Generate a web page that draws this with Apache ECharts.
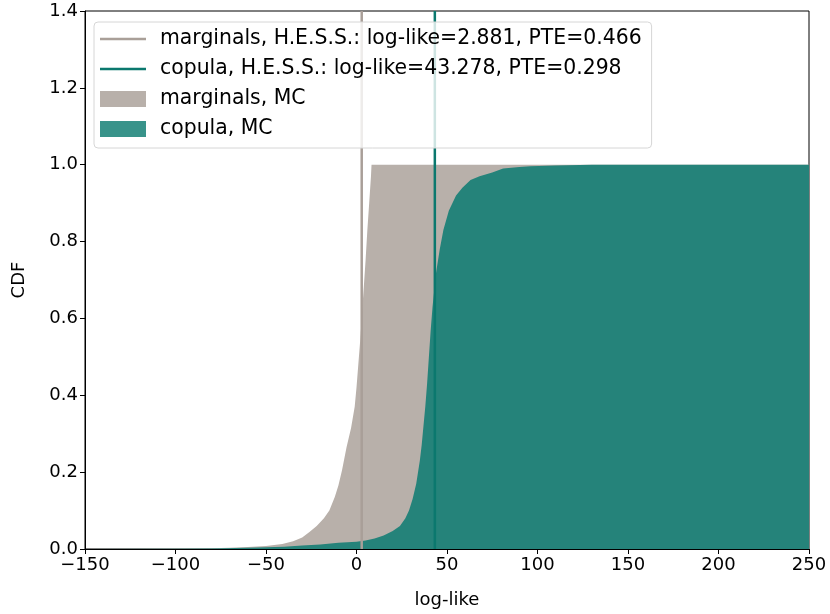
<!DOCTYPE html>
<html>
<head>
<meta charset="utf-8">
<script src="https://cdn.jsdelivr.net/npm/echarts@6/dist/echarts.min.js"></script>
<style>
  html, body { margin: 0; padding: 0; background: #fff; }
  #main { width: 830px; height: 614px; }
</style>
</head>
<body>
<div id="main"></div>
<script>
// MC CDF, marginals
var margX = [-150, -120, -100, -80, -70, -60, -50, -41, -35, -30, -26, -22, -18, -15, -12, -10, -8, -5.5, -3, -1, 0, 1, 2, 3, 4, 5, 6, 7, 8, 8.3, 250]
var margY = [0, 0.0005, 0.001, 0.002, 0.003, 0.005, 0.008, 0.013, 0.02, 0.03, 0.044, 0.06, 0.08, 0.1, 0.135, 0.165, 0.205, 0.265, 0.315, 0.37, 0.42, 0.48, 0.54, 0.61, 0.68, 0.75, 0.83, 0.9, 0.97, 1.0, 1.0]
// MC CDF, copula
var copX = [-150, -100, -80, -60, -40, -30, -20, -10, 0, 5, 10, 15, 20, 24, 27, 29, 31, 33, 35, 36, 37, 38, 39, 40, 41, 42, 44, 46, 48, 51, 55, 58.5, 63, 68, 75, 81, 90, 96, 110, 130, 250]
var copY = [0, 0.0005, 0.001, 0.003, 0.006, 0.009, 0.012, 0.016, 0.019, 0.022, 0.027, 0.035, 0.047, 0.06, 0.08, 0.1, 0.13, 0.17, 0.23, 0.27, 0.32, 0.37, 0.43, 0.5, 0.57, 0.63, 0.72, 0.78, 0.83, 0.88, 0.92, 0.94, 0.96, 0.97, 0.98, 0.99, 0.994, 0.996, 0.998, 1.0, 1.0]
// observed H.E.S.S. values
var hessMarg = 2.881
var hessCop = 43.278
var names = [
  'marginals, H.E.S.S.: log-like=2.881, PTE=0.466',
  'copula, H.E.S.S.: log-like=43.278, PTE=0.298',
  'marginals, MC',
  'copula, MC'
]

function pairs (xs, ys) {
  var out = []
  for (var i = 0; i < xs.length; i++) {
    out.push([xs[i], ys[i]])
  }
  return out
}

var font = 'DejaVu Sans'
// thin bar centred in a 46x16 box, used as legend icon for the vertical lines
var lineIcon = 'path://M0,0M46,16M0,6.75h46v2.5h-46z'
var myChart = echarts.init(document.getElementById('main'))
var option = {
  animation: false,
  textStyle: { fontFamily: font },
  grid: {
    left: 85,
    right: 21,
    top: 11,
    bottom: 64,
    show: true,
    borderColor: '#000',
    borderWidth: 1,
    backgroundColor: 'transparent'
  },
  legend: {
    orient: 'vertical',
    left: 94,
    top: 22,
    padding: [7, 10, 9, 6],
    itemGap: 10,
    itemWidth: 46,
    itemHeight: 16,
    backgroundColor: 'rgba(255,255,255,0.8)',
    borderColor: '#d6d6d6',
    borderWidth: 1,
    borderRadius: 4,
    textStyle: { fontFamily: font, fontSize: 20.4, color: '#000', padding: [0, 0, 0, 9] },
    data: [
      { name: names[0], icon: lineIcon, itemStyle: { color: '#a99f98' } },
      { name: names[1], icon: lineIcon, itemStyle: { color: '#0b786e' } },
      { name: names[2], icon: 'rect', itemStyle: { color: '#b8b0aa' } },
      { name: names[3], icon: 'rect', itemStyle: { color: '#38938a' } }
    ]
  },
  xAxis: {
    type: 'value',
    min: -150,
    max: 250,
    interval: 50,
    name: 'log-like',
    nameLocation: 'middle',
    nameGap: 42,
    nameTextStyle: { fontFamily: font, fontSize: 18, color: '#000' },
    axisLine: { show: true, onZero: false, lineStyle: { color: '#000', width: 1 } },
    axisTick: { show: true, length: 5, lineStyle: { color: '#000' } },
    axisLabel: {
      fontFamily: font,
      fontSize: 18,
      color: '#000',
      margin: 7,
      formatter: function (v) {
        return v < 0 ? '\u2212' + Math.abs(v) : String(v)
      }
    },
    splitLine: { show: false }
  },
  yAxis: {
    type: 'value',
    min: 0,
    max: 1.4,
    interval: 0.2,
    name: 'CDF',
    nameLocation: 'middle',
    nameGap: 57,
    nameTextStyle: { fontFamily: font, fontSize: 18, color: '#000' },
    axisLine: { show: true, onZero: false, lineStyle: { color: '#000', width: 1 } },
    axisTick: { show: true, length: 5, lineStyle: { color: '#000' } },
    axisLabel: {
      fontFamily: font,
      fontSize: 18,
      color: '#000',
      margin: 7,
      formatter: function (v) { return v.toFixed(1) }
    },
    splitLine: { show: false }
  },
  series: [
    {
      name: names[2],
      type: 'line',
      data: pairs(margX, margY),
      symbol: 'none',
      itemStyle: { color: '#b8b0aa' },
      lineStyle: { width: 0, color: '#b8b0aa' },
      areaStyle: { color: '#b8b0aa', opacity: 1 },
      z: 2
    },
    {
      name: names[3],
      type: 'line',
      data: pairs(copX, copY),
      symbol: 'none',
      itemStyle: { color: '#25837a' },
      lineStyle: { width: 0, color: '#25837a' },
      areaStyle: { color: '#25837a', opacity: 1 },
      z: 2
    },
    {
      name: names[0],
      type: 'line',
      data: [[hessMarg, 0], [hessMarg, 1.4]],
      symbol: 'none',
      itemStyle: { color: '#a99f98' },
      lineStyle: { width: 2.5, color: '#a99f98' },
      z: 3
    },
    {
      name: names[1],
      type: 'line',
      data: [[hessCop, 0], [hessCop, 1.4]],
      symbol: 'none',
      itemStyle: { color: '#0b786e' },
      lineStyle: { width: 2.5, color: '#0b786e' },
      z: 3
    }
  ]
}
myChart.setOption(option)
</script>
</body>
</html>
